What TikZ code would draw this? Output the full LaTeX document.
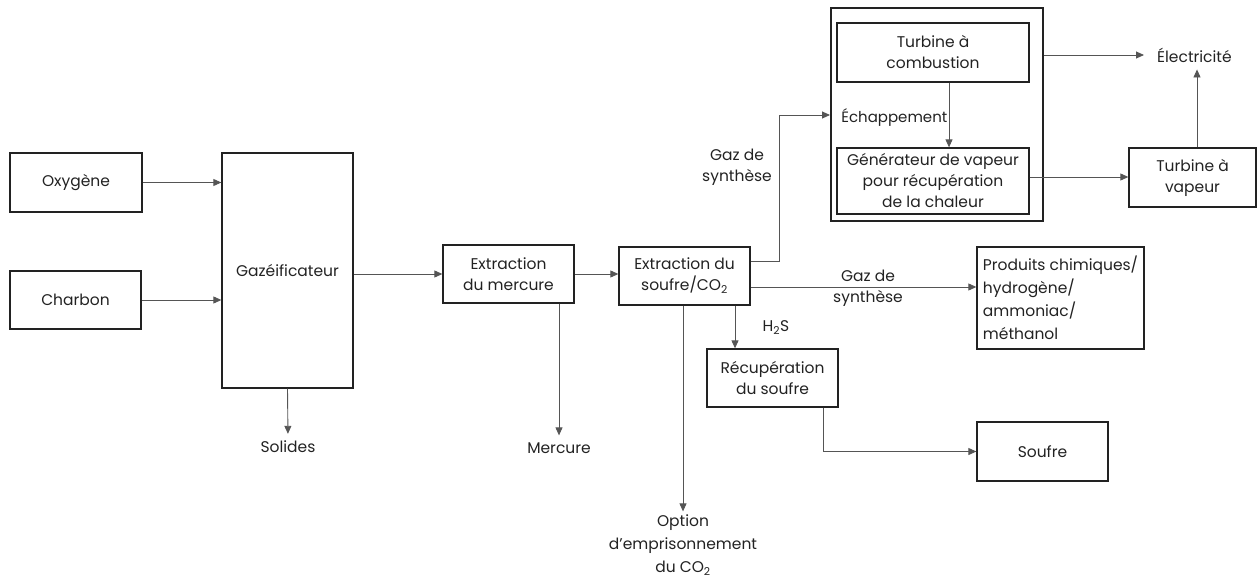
\documentclass[tikz,border=0pt]{standalone}
\usepackage{fontspec}
\setmainfont{Poppins}
\usepackage{xcolor}
\usepackage{tikz}
\usetikzlibrary{positioning,arrows.meta}
\definecolor{ink}{HTML}{222222}
\definecolor{wire}{HTML}{555555}

\begin{document}
\begin{tikzpicture}[x=1pt, y=-1pt, font=\fontsize{15.5}{21}\selectfont, text=ink,
		blk/.style={draw=ink, line width=1.3pt, inner sep=0pt, align=center},
		lbl/.style={inner sep=1pt, align=center},
		flow/.style={draw=wire, line width=0.9pt, -{Triangle[length=8pt, width=7pt]}}]
		\useasboundingbox (0,0) rectangle (1257,581);
		% feeds and gasifier
		\node[blk, minimum width=132pt, minimum height=59pt] (oxy) at (76,182.5) {Oxygène};
		\node[blk, minimum width=131pt, minimum height=58pt] (coal) at (75.5,300) {Charbon};
		\node[blk, minimum width=131pt, minimum height=235pt] (gasif) at (287.5,270.5) {Gazéificateur};
		\node[lbl] (solids) at (288,447) {Solides};
		% cleanup train
		\node[blk, minimum width=131pt, minimum height=58pt] (hgrem) at (508.5,274) {Extraction\\du mercure};
		\node[lbl] (hg) at (559,448) {Mercure};
		\node[blk, minimum width=131pt, minimum height=58pt] (srem) at (684.5,276) {Extraction du\\soufre/CO\textsubscript{2}};
		\node[lbl, font=\fontsize{15.5}{23}\selectfont] (seq) at (683,545) {Option\\d’emprisonnement\\du CO\textsubscript{2}};
		\node[lbl] (h2s) at (776,328) {H\textsubscript{2}S};
		\node[blk, minimum width=131pt, minimum height=58pt] (srec) at (772.5,378) {Récupération\\du soufre};
		\node[blk, minimum width=131pt, minimum height=59pt] (sulf) at (1042.5,451.5) {Soufre};
		\node[blk, minimum width=167pt, minimum height=102pt, align=left, font=\fontsize{15.5}{23}\selectfont] (chem) at (1060.5,298) {Produits chimiques/\\hydrogène/\\ammoniac/\\méthanol};
		\node[lbl] (syn2) at (868,288) {Gaz de\\synthèse};
		% power block
		\node[blk, line width=2pt, minimum width=212pt, minimum height=213pt] (cycle) at (937,114.5) {};
		\node[blk, minimum width=192pt, minimum height=59pt] (gt) at (933,52.5) {Turbine à\\combustion};
		\node[blk, minimum width=192pt, minimum height=66pt] (hrsg) at (933,181) {Générateur de vapeur\\pour récupération\\de la chaleur};
		\node[lbl, anchor=east, inner sep=0pt, font=\fontsize{15}{21}\selectfont] (exh) at (947.5,117) {Échappement};
		\node[blk, minimum width=127pt, minimum height=59pt] (st) at (1192.5,177.5) {Turbine à\\vapeur};
		\node[lbl, anchor=west] (elec) at (1156,55) {Électricité};
		\node[lbl] (syn1) at (737,167) {Gaz de\\synthèse};
		\coordinate (tap) at (779,115);

		\draw[flow] (oxy.east) -- (oxy.east -| gasif.west);
		\draw[flow] (coal.east) -- (coal.east -| gasif.west);
		\draw[flow] (gasif.east |- hgrem.west) -- (hgrem.west);
		\draw[flow, shorten >=6pt] (gasif.south) -- (solids.north);
		\draw[flow] (hgrem.east) -- (hgrem.east -| srem.west);
		\draw[flow, shorten >=6pt] (hgrem.south -| hg) -- (hg.north);
		\draw[flow, shorten >=2pt] (srem.south -| seq) -- (seq.north);
		\draw[flow] ([xshift=-37.5pt]srec.north |- srem.south) -- ([xshift=-37.5pt]srec.north);
		\draw[flow] ([yshift=-11pt]srem.east) -- ([yshift=-11pt]srem.east -| chem.west);
		\draw[flow] ([yshift=15pt]srem.east) -| (tap) -- (tap -| cycle.west);
		\draw[flow] ([xshift=50.5pt]srec.south) |- (sulf.west);
		\draw[flow] ([xshift=16pt]gt.south) -- ([xshift=16pt]hrsg.north);
		\draw[flow] ([yshift=4pt]hrsg.east) -- ([yshift=4pt]hrsg.east -| st.west);
		\draw[flow, shorten >=12pt] (cycle.east |- elec) -- (elec.west);
		\draw[flow, shorten >=6pt] ([xshift=4.5pt]st.north) -- ([xshift=4.5pt]st.north |- elec.south);
	\end{tikzpicture}
\end{document}
